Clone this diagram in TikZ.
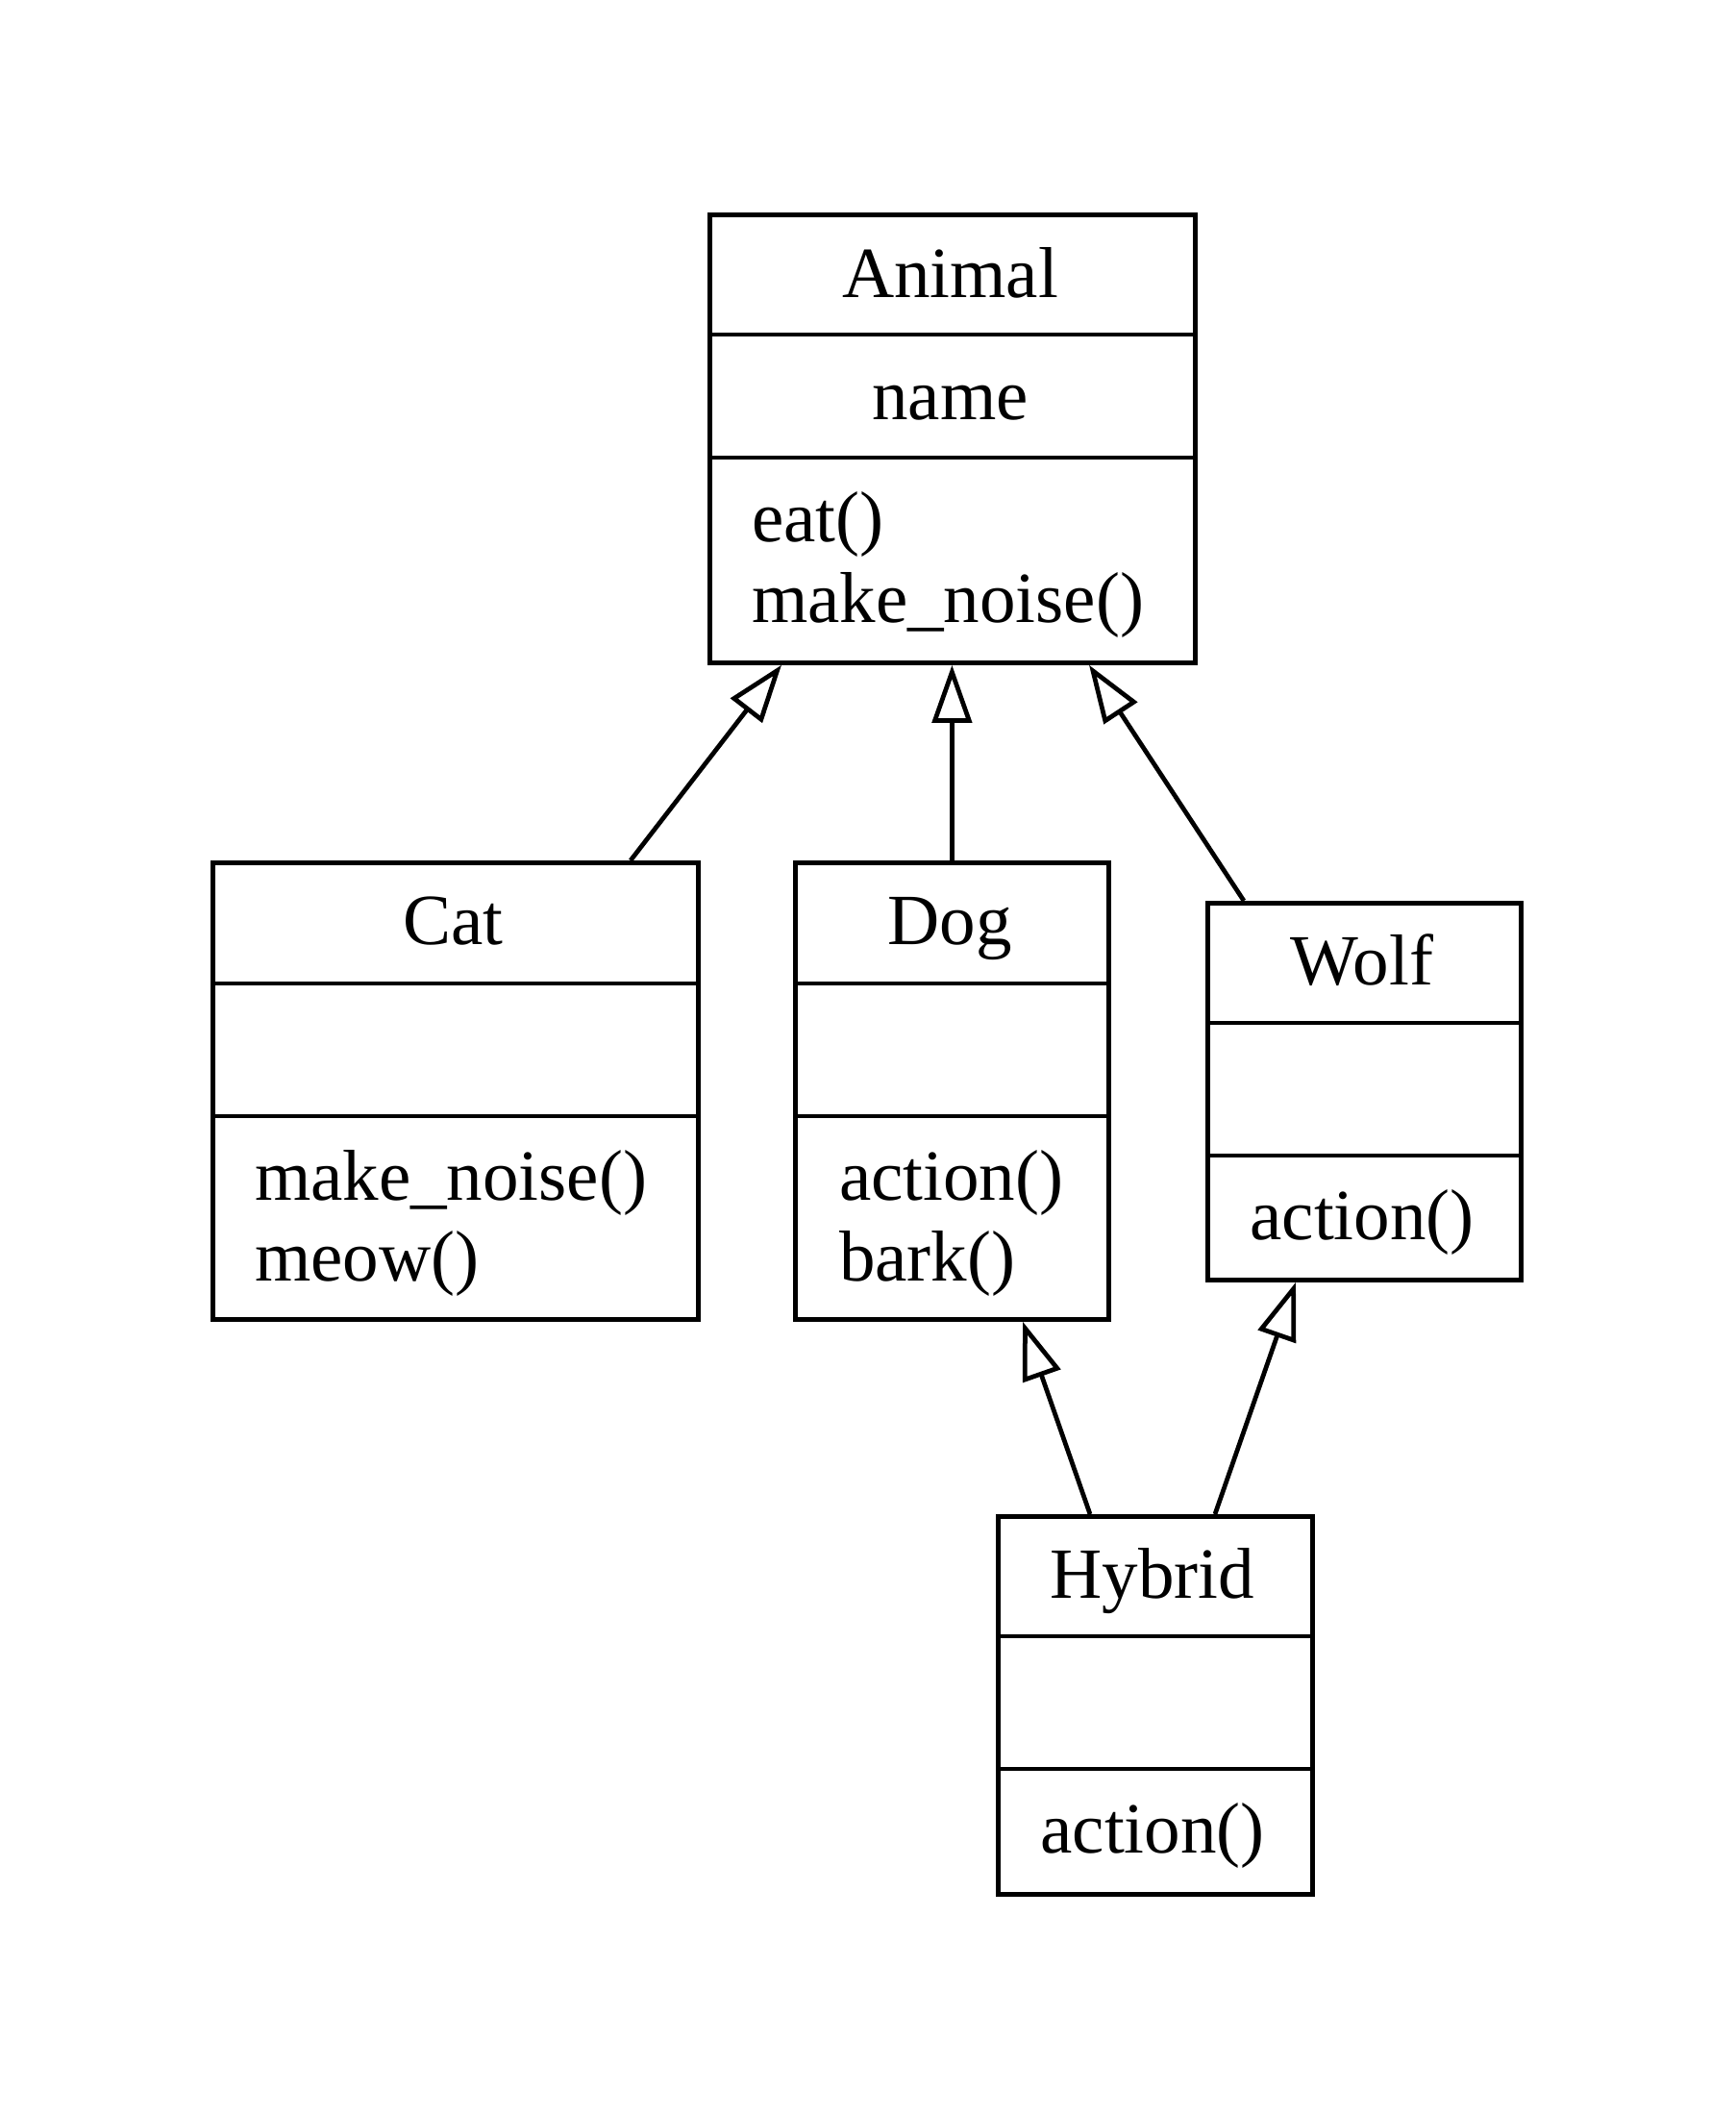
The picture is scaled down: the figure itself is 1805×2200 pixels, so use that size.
\documentclass[tikz,border=0pt]{standalone}
\usepackage{fontspec}
\setmainfont{Liberation Serif}
\usetikzlibrary{arrows.meta}
\tikzset{
  umlbox/.style={draw, line width=0.95pt, rectangle, inner sep=0pt, anchor=north west},
  sep/.style={line width=0.95pt},
  txt/.style={inner sep=0pt, yshift=-0.6pt, font=\fontsize{15pt}{16.8pt}\selectfont},
  inh/.style={line width=0.95pt, -{Triangle[open, length=12pt, width=8.2pt]}}
}
\begin{document}
\begin{tikzpicture}[x=0.2pt, y=-0.2pt]
\useasboundingbox (0,0) rectangle (1805,2200);
\fill[white] (0,0) rectangle (1805,2200);
\begin{scope}[shift={(-4,-4)}]
% boxes
\node[umlbox, minimum width=101pt, minimum height=93.2pt] (Animal) at (740,225) {};
\node[umlbox, minimum width=101pt, minimum height=95pt] (Cat) at (223,899) {};
\node[umlbox, minimum width=65.2pt, minimum height=95pt] (Dog) at (829,899) {};
\node[umlbox, minimum width=65.2pt, minimum height=78.4pt] (Wolf) at (1258,941) {};
\node[umlbox, minimum width=65.4pt, minimum height=78.6pt] (Hybrid) at (1040,1579) {};

% compartments
\draw[sep] (Animal.west |- 0,352) -- (Animal.east |- 0,352);
\draw[sep] (Animal.west |- 0,480) -- (Animal.east |- 0,480);
\draw[sep] (Cat.west |- 0,1027) -- (Cat.east |- 0,1027);
\draw[sep] (Cat.west |- 0,1165) -- (Cat.east |- 0,1165);
\draw[sep] (Dog.west |- 0,1027) -- (Dog.east |- 0,1027);
\draw[sep] (Dog.west |- 0,1165) -- (Dog.east |- 0,1165);
\draw[sep] (Wolf.west |- 0,1068) -- (Wolf.east |- 0,1068);
\draw[sep] (Wolf.west |- 0,1206) -- (Wolf.east |- 0,1206);
\draw[sep] (Hybrid.west |- 0,1706) -- (Hybrid.east |- 0,1706);
\draw[sep] (Hybrid.west |- 0,1844) -- (Hybrid.east |- 0,1844);

% texts
\node[txt, anchor=base] (animalT) at (992.5,310) {Animal};
\node[txt, anchor=base] (animalA) at (992.5,437) {name};
\node[txt, anchor=base west] (animalM1) at (785,564) {eat()};
\node[txt, anchor=base west] (animalM2) at (785,648) {make\_noise()};

\node[txt, anchor=base] (catT) at (475.5,983) {Cat};
\node[txt, anchor=base west] (catM1) at (268,1249) {make\_noise()};
\node[txt, anchor=base west] (catM2) at (268,1333) {meow()};

\node[txt, anchor=base] (dogT) at (992,983) {Dog};
\node[txt, anchor=base west] (dogM1) at (876,1249) {action()};
\node[txt, anchor=base west] (dogM2) at (876,1333) {bark()};

\node[txt, anchor=base] (wolfT) at (1421,1025) {Wolf};
\node[txt, anchor=base] (wolfM1) at (1421,1290) {action()};

\node[txt, anchor=base] (hybridT) at (1203,1663) {Hybrid};
\node[txt, anchor=base] (hybridM1) at (1203,1928) {action()};

% inheritance
\draw[inh] (Cat.north -| 660,0) -- (Animal.south -| 817,0);
\draw[inh] (Dog.north) -- (Animal.south -| Dog.north);
\draw[inh] (Wolf.north -| 1298,0) -- (Animal.south -| 1137,0);
\draw[inh] (Hybrid.north -| 1138,0) -- (Dog.south -| 1068,0);
\draw[inh] (Hybrid.north -| 1268,0) -- (Wolf.south -| 1352,0);
\end{scope}
\end{tikzpicture}
\end{document}
